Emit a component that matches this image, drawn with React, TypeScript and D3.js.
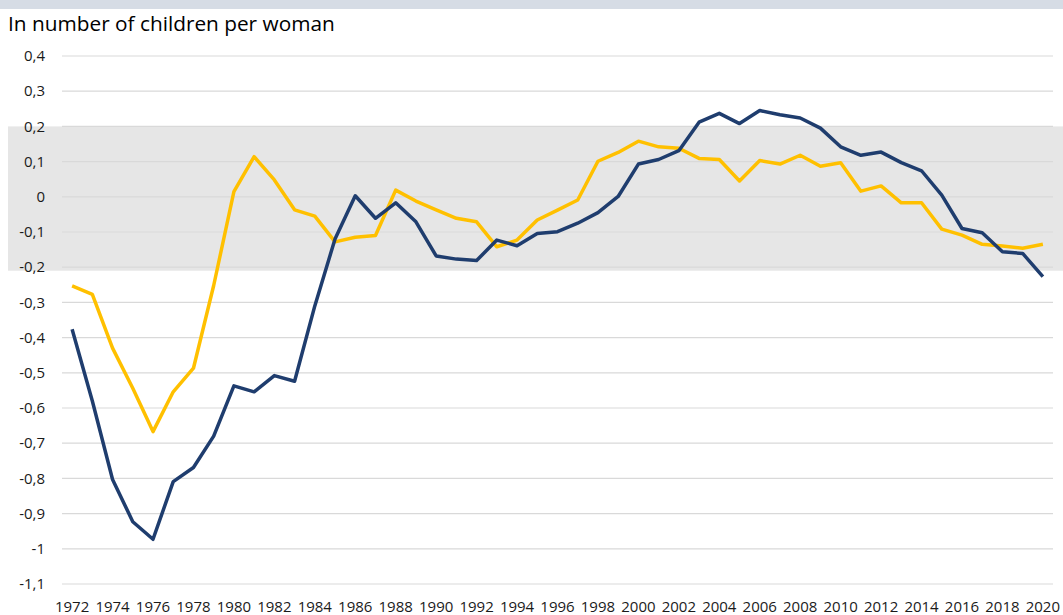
import React from 'react';
import * as d3 from 'd3';

// Years on the category axis
const years: number[] = d3.range(1972, 2021);

// Dark blue series
const blueValues: number[] = [
  -0.376, -0.58, -0.803, -0.923, -0.973, -0.809, -0.769, -0.68, -0.537, -0.554,
  -0.508, -0.524, -0.31, -0.12, 0.003, -0.061, -0.017, -0.071, -0.168, -0.177,
  -0.181, -0.123, -0.139, -0.104, -0.099, -0.075, -0.045, 0.001, 0.093, 0.106,
  0.131, 0.212, 0.237, 0.208, 0.245, 0.233, 0.224, 0.195, 0.142, 0.118,
  0.127, 0.097, 0.074, 0.005, -0.09, -0.102, -0.156, -0.161, -0.227,
];

// Yellow series
const yellowValues: number[] = [
  -0.253, -0.277, -0.43, -0.544, -0.667, -0.554, -0.487, -0.252, 0.015, 0.114,
  0.048, -0.037, -0.055, -0.128, -0.115, -0.11, 0.019, -0.012, -0.037, -0.061,
  -0.071, -0.142, -0.123, -0.066, -0.038, -0.009, 0.101, 0.126, 0.158, 0.142,
  0.138, 0.109, 0.106, 0.045, 0.103, 0.093, 0.118, 0.087, 0.097, 0.016,
  0.031, -0.017, -0.017, -0.092, -0.109, -0.135, -0.14, -0.146, -0.135,
];

const yTicks: number[] = d3.range(4, -12, -1).map((d) => d / 10);
const xTickYears: number[] = years.filter((y) => (y - 1972) % 2 === 0);
const bandRange: [number, number] = [0.2, -0.21];

const title = 'In number of children per woman';

const App = () => {
  // Chart dimensions
  const width = 1063;
  const height = 615;
  const plotLeft = 62;
  const plotRight = 1053;

  const x = d3
    .scalePoint<number>()
    .domain(years)
    .range([plotLeft, plotRight])
    .padding(0.5);

  const y = d3.scaleLinear().domain([0.4, -1.1]).range([56, 584]);

  const line = d3
    .line<number>()
    .x((d, i) => x(years[i]) as number)
    .y((d) => y(d));

  const fmt = (v: number) => (v === 0 ? '0' : String(Math.round(v * 10) / 10).replace('.', ','));

  const font = "'Open Sans', 'Liberation Sans', sans-serif";

  return (
    <svg
      width={width}
      height={height}
      style={{ position: 'fixed', left: 0, top: 0, display: 'block', background: '#fff' }}
      fontFamily={font}
    >
      {/* top strip */}
      <rect x={0} y={0} width={width} height={9} fill="#d6dce5" />

      <text x={8} y={31} fontSize={20.8} fill="#000">
        {title}
      </text>

      {/* grey band */}
      <rect
        x={8}
        y={y(bandRange[0])}
        width={width - 8}
        height={y(bandRange[1]) - y(bandRange[0])}
        fill="#e6e6e6"
      />

      {/* gridlines and y labels */}
      {yTicks.map((t) => (
        <g key={t}>
          <line x1={plotLeft} x2={plotRight} y1={y(t)} y2={y(t)} stroke="#d9d9d9" strokeWidth={1.2} />
          <text x={45} y={y(t)} dy="0.35em" textAnchor="end" fontSize={15} fill="#1a1a1a">
            {fmt(t)}
          </text>
        </g>
      ))}

      {/* x labels */}
      {xTickYears.map((yr) => (
        <text key={yr} x={x(yr)} y={612} textAnchor="middle" fontSize={15} fill="#1a1a1a">
          {yr}
        </text>
      ))}

      <path d={line(yellowValues) || ''} fill="none" stroke="#ffc000" strokeWidth={3.5} strokeLinejoin="round" />
      <path d={line(blueValues) || ''} fill="none" stroke="#1f3d6e" strokeWidth={3.5} strokeLinejoin="round" />
    </svg>
  );
};

export default App;
